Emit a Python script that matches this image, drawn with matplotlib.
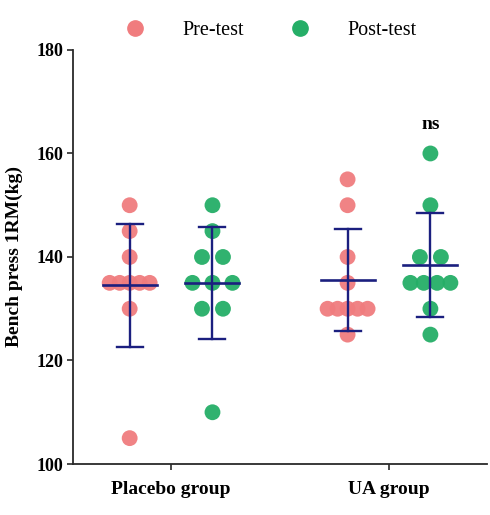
import numpy as np
import matplotlib.pyplot as plt
from matplotlib.lines import Line2D

plt.rcParams['font.family'] = ['Liberation Serif', 'DejaVu Serif']

groups = ['Placebo group', 'UA group']
placebo_pre = [150, 145, 140, 135, 135, 135, 135, 135, 130, 105]
placebo_post = [150, 145, 140, 140, 135, 135, 135, 130, 130, 110]
ua_pre = [155, 150, 140, 135, 130, 130, 130, 130, 130, 125]
ua_post = [160, 150, 140, 140, 135, 135, 135, 135, 130, 125]

pre_col = '#F07C7E'
post_col = '#25AE67'
bar_col = '#1B1F7F'

fig = plt.figure(figsize=(4.9, 5.15), dpi=100)
ax = fig.add_axes([0.149, 0.099, 0.845, 0.804])
ax.set_xlim(0.55, 2.45)
ax.set_ylim(100, 180)

px = 1.9 / 414.0  # data units per pixel on x


def swarm(vals):
    vals = np.array(vals)
    offs = np.zeros(len(vals))
    for v in np.unique(vals):
        idx = np.where(vals == v)[0]
        n = len(idx)
        if n > 1:
            step = min(21, 40 / (n - 1))
            offs[idx] = (np.arange(n) - (n - 1) / 2) * step * px
    return offs


series = [(1, -0.19, placebo_pre, pre_col), (1, 0.19, placebo_post, post_col),
          (2, -0.19, ua_pre, pre_col), (2, 0.19, ua_post, post_col)]

for g, d, vals, c in series:
    xc = g + d
    ax.scatter(xc + swarm(vals), vals, s=130, color=c, edgecolors='none',
               alpha=0.95, zorder=2, clip_on=False)
    m = np.mean(vals)
    sd = np.std(vals, ddof=1)
    ax.plot([xc, xc], [m - sd, m + sd], color=bar_col, lw=1.7, zorder=3)
    for yy in (m - sd, m + sd):
        ax.plot([xc - 13 * px, xc + 13 * px], [yy, yy], color=bar_col, lw=1.7, zorder=3)
    ax.plot([xc - 27 * px, xc + 27 * px], [m, m], color=bar_col, lw=1.9, zorder=3)

ax.text(2.19, 165.6, 'ns', ha='center', va='center', fontsize=14, fontweight='bold')

ax.set_xticks([1, 2])
ax.set_xticklabels(groups, fontsize=14, fontweight='bold')
ax.set_yticks([100, 120, 140, 160, 180])
ax.set_yticklabels(['100', '120', '140', '160', '180'], fontsize=13, fontweight='bold')
ax.set_ylabel('Bench press 1RM(kg)', fontsize=14, fontweight='bold', labelpad=10)
for s in ['top', 'right']:
    ax.spines[s].set_visible(False)
for s in ['left', 'bottom']:
    ax.spines[s].set_linewidth(1.3)
    ax.spines[s].set_color('#2a2a2a')
ax.tick_params(length=4, width=1.2, color='#2a2a2a', pad=3)
ax.tick_params(axis='x', pad=8)

handles = [Line2D([], [], marker='o', ls='', color=pre_col, markersize=11),
           Line2D([], [], marker='o', ls='', color=post_col, markersize=11)]
fig.legend(handles, ['Pre-test', 'Post-test'], loc='center', bbox_to_anchor=(0.553, 0.941),
           ncol=2, frameon=False, fontsize=14.5, handlelength=1, handletextpad=1.85,
           columnspacing=2.3)

fig.savefig('out.png', dpi=100)
